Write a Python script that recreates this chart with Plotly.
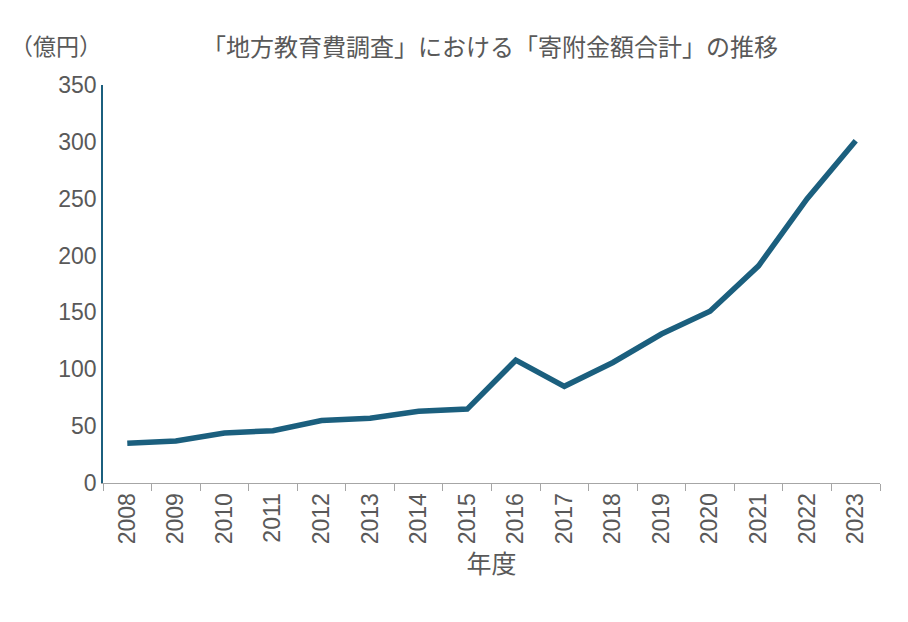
import plotly.graph_objects as go

years = [str(y) for y in range(2008, 2024)]
kifu = [35, 37, 44, 46, 55, 57, 63, 65, 108, 85, 106, 131, 151, 191, 250, 301]
y_ticks = [0, 50, 100, 150, 200, 250, 300, 350]

jp = "Noto Sans CJK JP"
gray = "#595959"

L, T, PW, PH = 95, 77, 777, 398

fig = go.Figure()
fig.add_trace(go.Scatter(x=years, y=kifu, mode="lines",
                         line=dict(color="#1b5f7e", width=5.5)))

fig.update_layout(
    width=908, height=622,
    margin=dict(l=L, r=908 - L - PW, t=T, b=622 - T - PH),
    paper_bgcolor="white", plot_bgcolor="white",
    showlegend=False,
    font=dict(family=jp, color=gray),
    xaxis=dict(type="category", range=[-0.5, 15.5], tickangle=-90, ticks="outside",
               tickson="boundaries", ticklen=7, tickcolor="#a6a6a6", showline=True,
               linecolor="#a6a6a6", linewidth=1, showgrid=False,
               tickfont=dict(size=23, family="Liberation Sans", color=gray),
               title=dict(text="年度", font=dict(size=25, color=gray), standoff=10)),
    yaxis=dict(range=[0, 350], tickvals=y_ticks, showline=True, linecolor="#1b5f7e",
               linewidth=1.5, showgrid=False, ticks="", zeroline=False,
               tickfont=dict(size=23, family="Liberation Sans", color=gray)),
    annotations=[
        dict(text="（億円）", x=-L / PW, y=1 + (T - 37) / PH, xref="paper", yref="paper",
             showarrow=False, xanchor="left", yanchor="middle",
             font=dict(size=23, color=gray)),
        dict(text="「地方教育費調査」における「寄附金額合計」の推移",
             x=(482 - L) / PW, y=1 + (T - 37) / PH, xref="paper", yref="paper",
             showarrow=False, xanchor="center", yanchor="middle",
             font=dict(size=24, color=gray)),
    ],
)

fig.write_html("out.html")
